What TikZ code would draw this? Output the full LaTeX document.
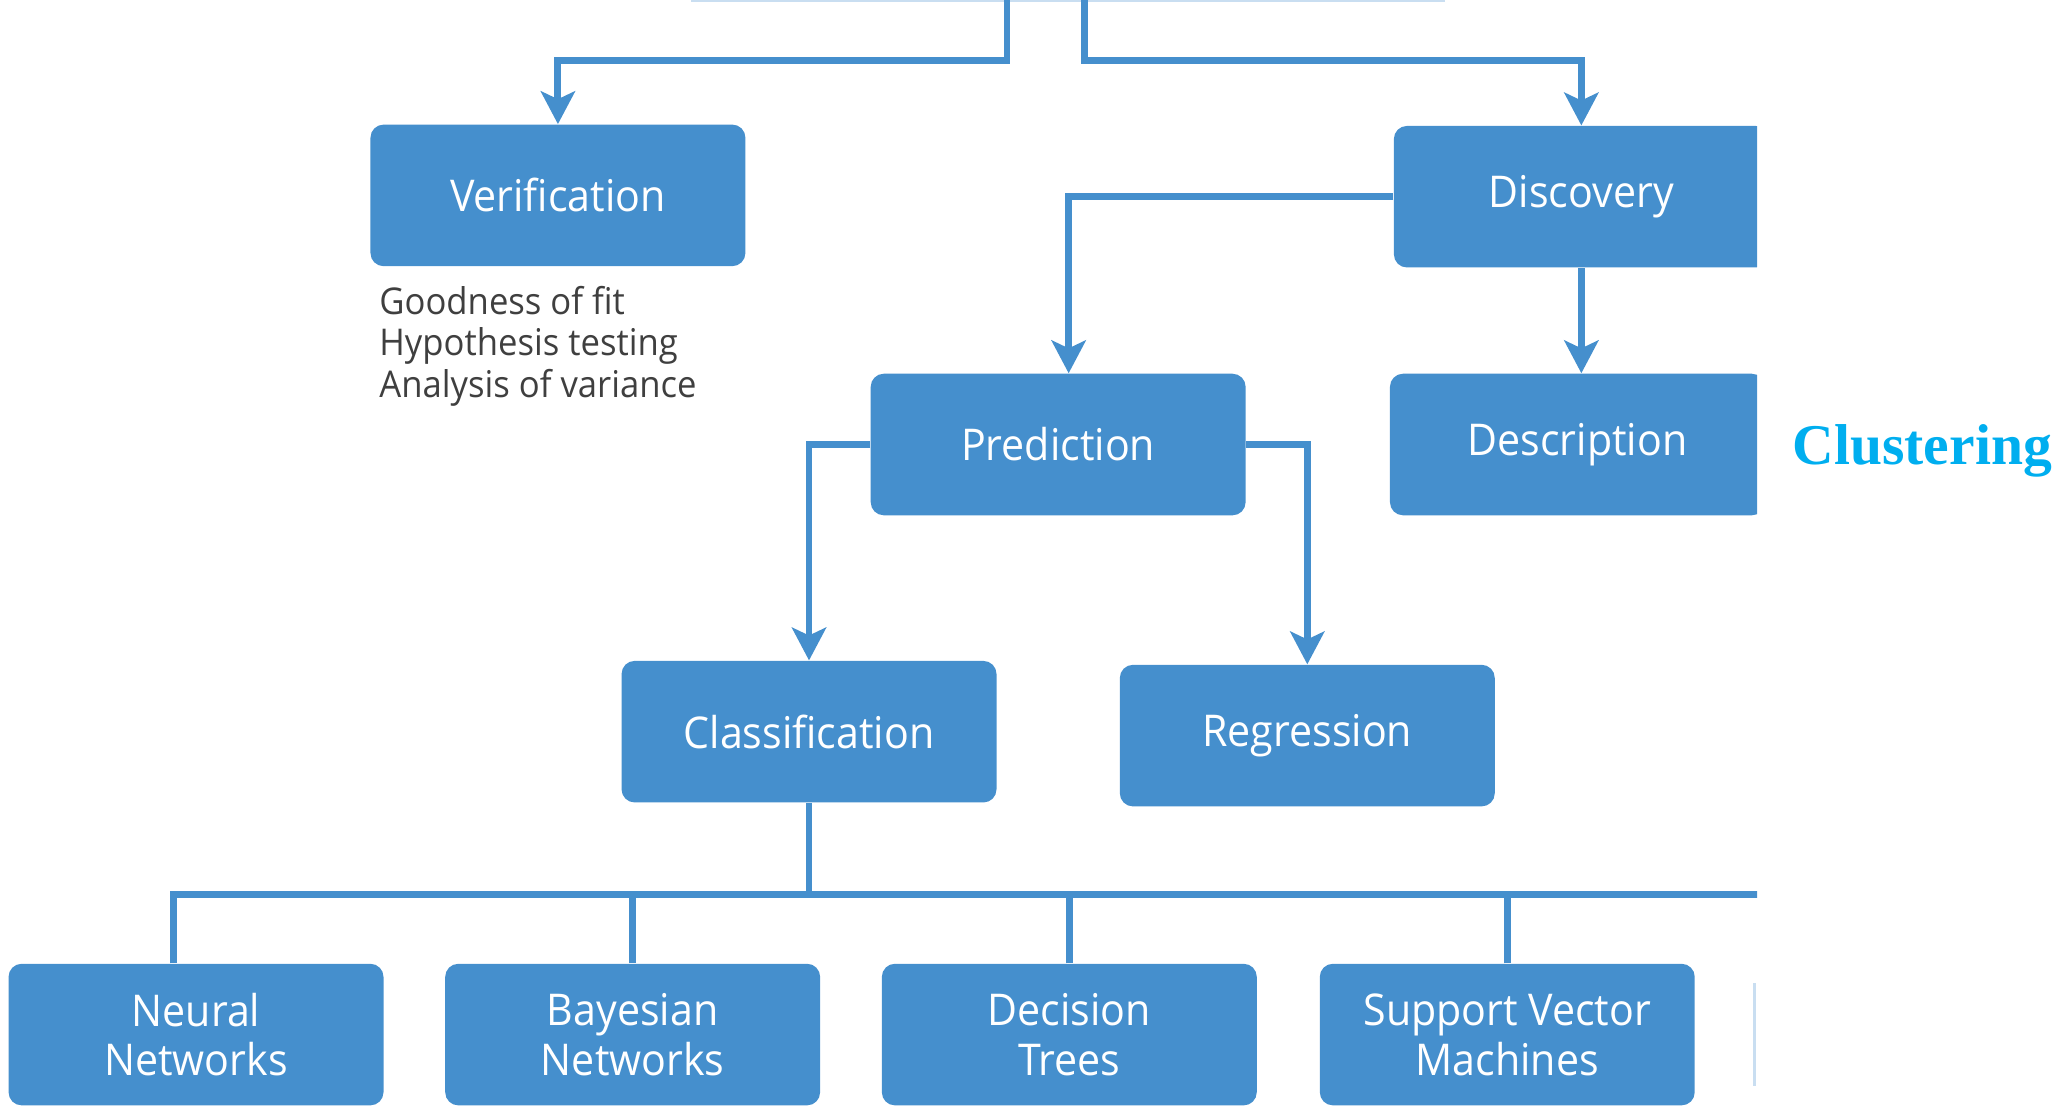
\documentclass[tikz,border=0pt]{standalone}
\usepackage{fontspec}
\usepackage{xcolor}
\usetikzlibrary{arrows.meta}
\definecolor{chartblue}{HTML}{458FCD}
\definecolor{chartpale}{HTML}{C9DEF1}
\definecolor{chartgrey}{HTML}{3F3F3F}
\definecolor{chartcyan}{HTML}{00AEEF}
\newfontfamily\boxfont[FakeStretch=0.94]{Open Sans}
\newfontfamily\clusterfont{Liberation Serif}
\newcommand{\cropframe}{(0,0) rectangle (1340,843)}
\newcommand{\boxsize}{\fontsize{19}{21.6}\selectfont}

\begin{document}
\begin{tikzpicture}[x=0.02cm, y={(0cm,-0.02cm)},
  methodbox/.style={fill=chartblue, rounded corners=0.2cm, minimum width=5.72cm, minimum height=2.16cm,
    inner sep=0pt, text=white, align=center, font=\boxfont\boxsize},
  link/.style={draw=chartblue, line width=3pt},
  arrowlink/.style={link, -{Stealth[length=0.5cm, width=0.52cm, inset=0.12cm]}},
  notes/.style={text=chartgrey, align=left, inner sep=0pt, font=\boxfont\fontsize{16}{17.9}\selectfont},
  clusterlabel/.style={text=chartcyan, inner sep=0pt, font=\clusterfont\bfseries\fontsize{25}{30}\selectfont}]

  \useasboundingbox (0,0) rectangle (1568,843);

  %% the cropped chart
  \begin{scope}
    \clip \cropframe;

    %% edges of boxes cut off by the crop
    \draw[chartpale, line width=1.2pt] (527,0.6) -- (1102,0.6);
    \draw[chartpale, line width=1.2pt] (1338,750) -- (1338,828);

    %% boxes
    \node[methodbox] (ver) at (425.5,149) {Verification};
    \node[methodbox] (dis) at (1206,150) {Discovery};
    \node[methodbox] (pre) at (807,339) {Prediction};
    \node[methodbox] (des) at (1203,339) {Description};
    \node[methodbox] (cla) at (617,558) {Classification};
    \node[methodbox] (reg) at (997,561) {Regression};
    \node[methodbox] (neu) at (149.5,789) {Neural\\Networks};
    \node[methodbox] (bay) at (482.5,789) {Bayesian\\Networks};
    \node[methodbox] (dec) at (815.5,789) {Decision\\Trees};
    \node[methodbox] (svm) at (1149.5,789) {Support Vector\\Machines};

    \node[notes, anchor=west] (tests) at (289,264) {Goodness of fit\\Hypothesis testing\\Analysis of variance};

    %% connectors
    \coordinate (topL) at (768,0);
    \coordinate (topR) at (827,0);
    \coordinate (busend) at (1400,682);
    \draw[arrowlink] (topL) -- ++(0,46) -| (ver.north);
    \draw[arrowlink] (topR) -- ++(0,46) -| (dis.north);
    \draw[arrowlink] (dis.west) -| ([xshift=0.16cm]pre.north);
    \draw[arrowlink] (dis.south) -- (dis.south |- des.north);
    \draw[arrowlink] (pre.west) -| (cla.north);
    \draw[arrowlink] (pre.east) -| (reg.north);
    \draw[link] (cla.south) -- (cla.south |- busend);
    \draw[link] ([xshift=-0.35cm]neu.north) |- (busend);
    \draw[link] (bay.north) -- (bay.north |- busend);
    \draw[link] (dec.north) -- (dec.north |- busend);
    \draw[link] (svm.north) -- (svm.north |- busend);
  \end{scope}

  \node[clusterlabel] (clu) at (1466,344) {Clustering};

\end{tikzpicture}
\end{document}
